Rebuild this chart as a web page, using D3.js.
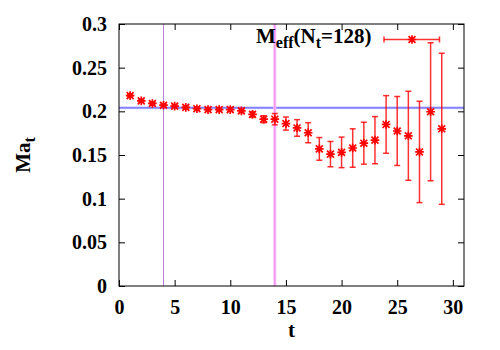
<!DOCTYPE html>
<html>
<head>
<meta charset="utf-8">
<script src="https://cdn.jsdelivr.net/npm/d3@7"></script>
<style>
  body { margin: 0; background: #fff; }
  svg text { font-family: "Liberation Serif", "Times New Roman", "DejaVu Serif", serif !important; font-weight: bold; }
</style>
</head>
<body>
<div id="chart"></div>
<script>
// Daten
var tVals = [1, 2, 3, 4, 5, 6, 7, 8, 9, 10, 11, 12, 13, 14, 15, 16, 17, 18, 19, 20, 21, 22, 23, 24, 25, 26, 27, 28, 29];
var meff = [0.218, 0.212, 0.209, 0.207, 0.206, 0.2045, 0.203, 0.202, 0.202, 0.202, 0.2005, 0.1965, 0.191, 0.191, 0.186,
            0.181, 0.1755, 0.157, 0.151, 0.153, 0.158, 0.1635, 0.167, 0.185, 0.1775, 0.172, 0.1535, 0.1995, 0.180];
var merr = [0.0015, 0.0015, 0.0015, 0.0015, 0.0015, 0.0015, 0.0015, 0.0015, 0.0015, 0.002, 0.002, 0.003, 0.004, 0.0065, 0.0075,
            0.0095, 0.0115, 0.013, 0.0145, 0.0175, 0.022, 0.024, 0.027, 0.033, 0.0395, 0.051, 0.058, 0.079, 0.0865];
var fitRange = [4, 14];
var fitVal = 0.204, fitErr = 0.0015;
var xTicks = [0, 5, 10, 15, 20, 25, 30];
var yTicks = [0, 0.05, 0.1, 0.15, 0.2, 0.25, 0.3];

var margin = {top: 24, right: 36, bottom: 64, left: 119},
    width = 500 - margin.left - margin.right,
    height = 350 - margin.top - margin.bottom;

var svg = d3.select("#chart").append("svg")
    .attr("width", 500).attr("height", 350)
  .append("g")
    .attr("transform", "translate(" + margin.left + "," + margin.top + ")");

var x = d3.scaleLinear().domain([0, 31]).range([0, width]);
var y = d3.scaleLinear().domain([0, 0.3]).range([height, 0]);

// Fit-Band und Linie
svg.append("rect")
    .attr("x", 0).attr("width", width)
    .attr("y", y(fitVal + fitErr)).attr("height", y(fitVal - fitErr) - y(fitVal + fitErr))
    .attr("fill", "#b8b8ff");
svg.append("line")
    .attr("x1", 0).attr("x2", width)
    .attr("y1", y(fitVal)).attr("y2", y(fitVal))
    .attr("stroke", "#6868ff").attr("stroke-width", 1);

// Fitbereich
svg.append("line")
    .attr("x1", x(fitRange[0])).attr("x2", x(fitRange[0]))
    .attr("y1", 0).attr("y2", height)
    .attr("stroke", "#b880e0").attr("stroke-width", 1);
svg.append("line")
    .attr("x1", x(fitRange[1])).attr("x2", x(fitRange[1]))
    .attr("y1", 0).attr("y2", height)
    .attr("stroke", "#ffc4ff").attr("stroke-width", 3);
svg.append("line")
    .attr("x1", x(fitRange[1])).attr("x2", x(fitRange[1]))
    .attr("y1", 0).attr("y2", height)
    .attr("stroke", "#f080f0").attr("stroke-width", 1);

// Achsen (Ticks nach innen, alle vier Seiten)
var fmt = function(d) { return d3.format("")(+d.toFixed(2)); };
svg.append("g").attr("transform", "translate(0," + height + ")")
    .call(d3.axisBottom(x).tickValues(xTicks).tickSize(-6).tickPadding(14).tickFormat(d3.format("d")));
svg.append("g")
    .call(d3.axisLeft(y).tickValues(yTicks).tickSize(-6).tickPadding(12).tickFormat(fmt));
svg.append("g")
    .call(d3.axisTop(x).tickValues(xTicks).tickSize(-6).tickFormat(""));
svg.append("g").attr("transform", "translate(" + width + ",0)")
    .call(d3.axisRight(y).tickValues(yTicks).tickSize(-6).tickFormat(""));
svg.selectAll(".domain").remove();
svg.selectAll(".tick line").attr("stroke", "#000");
svg.selectAll(".tick text").attr("font-size", 20).attr("fill", "#000");
svg.append("rect")
    .attr("width", width).attr("height", height)
    .attr("fill", "none").attr("stroke", "#000").attr("stroke-width", 1);

// Fehlerbalken + Sterne
var pts = tVals.map(function(t, i) { return {t: t, v: meff[i], e: merr[i]}; });
var red = "#ff0000";
var g = svg.append("g");
g.selectAll(".eb").data(pts).enter().append("line")
    .attr("x1", function(d) { return x(d.t); }).attr("x2", function(d) { return x(d.t); })
    .attr("y1", function(d) { return y(d.v + d.e); }).attr("y2", function(d) { return y(d.v - d.e); })
    .attr("stroke", red).attr("stroke-width", 1.5).attr("opacity", 0.8);
[1, -1].forEach(function(s) {
  g.selectAll(".cap" + s).data(pts).enter().append("line")
      .attr("x1", function(d) { return x(d.t) - 3; }).attr("x2", function(d) { return x(d.t) + 3; })
      .attr("y1", function(d) { return y(d.v + s * d.e); }).attr("y2", function(d) { return y(d.v + s * d.e); })
      .attr("stroke", red).attr("stroke-width", 1.5).attr("opacity", 0.8);
});

function star(sel, r) {
  sel.append("path")
    .attr("d", "M" + (-r) + ",0H" + r + "M0," + (-r) + "V" + r +
               "M" + (-r * 0.8) + "," + (-r * 0.8) + "L" + (r * 0.8) + "," + (r * 0.8) +
               "M" + (-r * 0.8) + "," + (r * 0.8) + "L" + (r * 0.8) + "," + (-r * 0.8))
    .attr("stroke", red).attr("stroke-width", 1.7).attr("fill", "none");
}
g.selectAll(".pt").data(pts).enter().append("g")
    .attr("transform", function(d) { return "translate(" + x(d.t) + "," + y(d.v) + ")"; })
    .call(star, 4.3);

// Legende
var leg = svg.append("g");
var lt = leg.append("text").attr("x", 256 - margin.left).attr("y", 43 - margin.top)
    .attr("font-size", 21).attr("fill", "#000");
lt.append("tspan").text("M");
lt.append("tspan").attr("font-size", 16).attr("dy", 5).text("eff");
lt.append("tspan").attr("dy", -5).text("(N");
lt.append("tspan").attr("font-size", 16).attr("dy", 5).text("t");
lt.append("tspan").attr("dy", -5).text("=128)");
var ly = 39.5 - margin.top, lx1 = 384 - margin.left, lx2 = 439.5 - margin.left;
leg.append("line").attr("x1", lx1).attr("x2", lx2).attr("y1", ly).attr("y2", ly)
    .attr("stroke", red).attr("stroke-width", 1.5).attr("opacity", 0.8);
[lx1, lx2].forEach(function(xx) {
  leg.append("line").attr("x1", xx).attr("x2", xx).attr("y1", ly - 3).attr("y2", ly + 3)
      .attr("stroke", red).attr("stroke-width", 1.5).attr("opacity", 0.8);
});
leg.append("g").attr("transform", "translate(" + (412 - margin.left) + "," + ly + ")").call(star, 4.3);

// Achsenbeschriftung
var yl = svg.append("text")
    .attr("transform", "translate(" + (30 - margin.left) + "," + (height / 2) + ") rotate(-90)")
    .attr("text-anchor", "middle").attr("font-size", 21).attr("fill", "#000");
yl.append("tspan").text("Ma");
yl.append("tspan").attr("font-size", 16).attr("dy", 5).text("t");

svg.append("text").attr("x", x(15.5)).attr("y", height + 51)
    .attr("text-anchor", "middle").attr("font-size", 21).attr("fill", "#000").text("t");
</script>
</body>
</html>
